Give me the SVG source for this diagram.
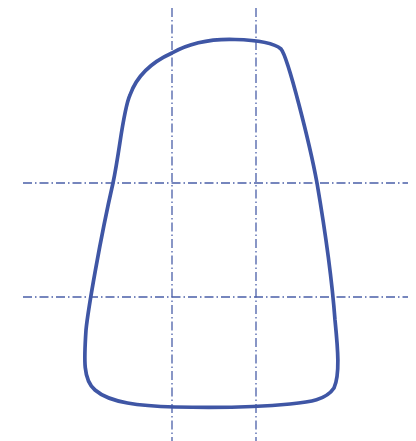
<svg xmlns="http://www.w3.org/2000/svg" width="416" height="441" viewBox="0 0 416 441">
<style>
.axis{stroke:#4a5fa8;stroke-width:1.3;stroke-dasharray:9 3 1.5 3;fill:none}
.outline{stroke:#3f56a5;stroke-width:3.7;fill:none;stroke-linejoin:round}
</style>
<rect width="416" height="441" fill="#fff"/>
<g id="connectors">
<line class="axis" x1="172" y1="8" x2="172" y2="441"/>
<line class="axis" x1="256" y1="8" x2="256" y2="441"/>
<line class="axis" x1="23" y1="183" x2="408" y2="183"/>
<line class="axis" x1="23" y1="297" x2="408" y2="297"/>
</g>
<g id="shape">
<path class="outline" d="M 172 53 C 195 40, 220 39, 235 39.5 C 255 40, 273 42, 281 49 C 288 57, 310 145, 317 183 C 325 230, 332 280, 335 320 C 338 350, 340 375, 334 388 C 326 400, 310 402, 290 404 C 260 407, 220 408, 175 407 C 140 406, 110 403, 95 390 C 83 380, 84 360, 86 330 C 88 310, 100 240, 113 183 C 120 150, 123 110, 130 95 C 137 75, 152 62, 172 53 Z"/>
</g>
</svg>
